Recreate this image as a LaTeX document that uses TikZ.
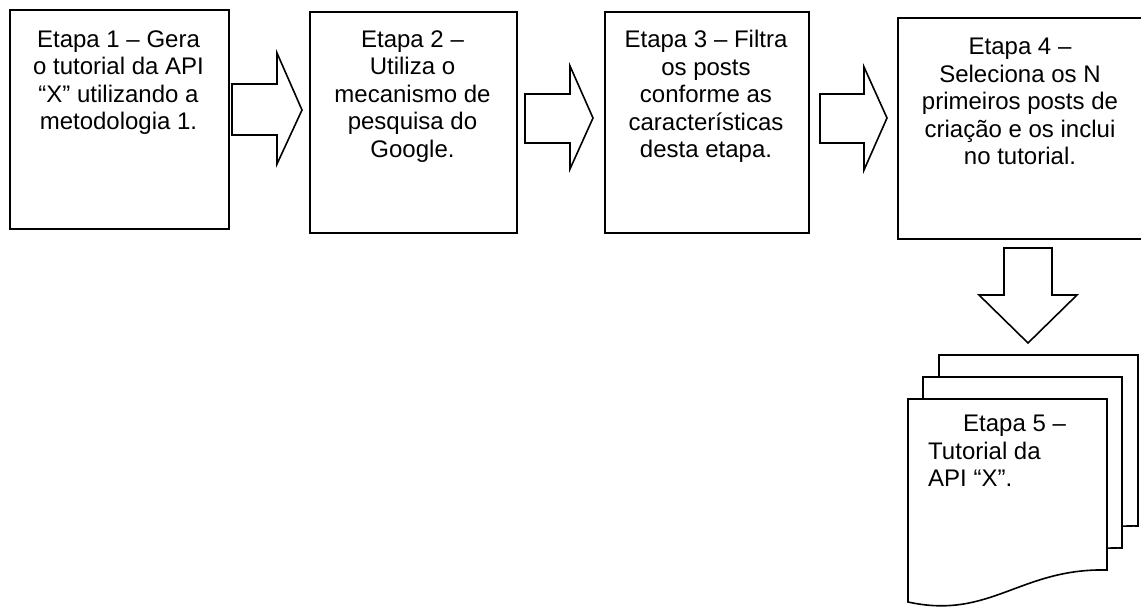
\documentclass[tikz,border=0pt]{standalone}
\usepackage{fontspec}
\setmainfont{Liberation Sans}
\begin{document}
\begin{tikzpicture}[x=1pt,y=-1pt,line join=miter,
  stagebox/.style={draw=black, fill=white, line width=1.6pt, inner sep=0pt, anchor=north west},
  stagetext/.style={font=\fontsize{24}{27.5}\selectfont, align=center, inner sep=0pt, anchor=north},
  blockarrow/.style={draw=black, fill=white, line width=1.6pt}]
\useasboundingbox (0,0) rectangle (1141,609);

% stage boxes
\node[stagebox, minimum width=219pt, minimum height=219pt] (b1) at (9,9) {};
\node[stagebox, minimum width=207pt, minimum height=221pt] (b2) at (309,11) {};
\node[stagebox, minimum width=204pt, minimum height=221pt] (b3) at (604,11) {};
\node[stagebox, minimum width=246pt, minimum height=221pt] (b4) at (897,17) {};

% texts
\node[stagetext] (t1) at (118.5,30.2) {Etapa 1 – Gera\\o tutorial da API\\“X” utilizando a\\metodologia 1.};
\node[stagetext] (t2) at (412.5,30.2) {Etapa 2 –\\Utiliza o\\mecanismo de\\pesquisa do\\Google.};
\node[stagetext] (t3) at (706,30) {Etapa 3 – Filtra\\os posts\\conforme as\\características\\desta etapa.};
\node[stagetext] (t4) at (1020,38.2) {Etapa 4 –\\Seleciona os N\\primeiros posts de\\criação e os inclui\\no tutorial.};

% block arrows
\draw[blockarrow] (232,84) -- (277,84) -- (277,53) -- (302,110) -- (277,164) -- (277,135) -- (232,135) -- cycle;
\draw[blockarrow] (525,94) -- (570,94) -- (570,66) -- (593,118) -- (570,169) -- (570,143) -- (525,143) -- cycle;
\draw[blockarrow] (820,94) -- (864,94) -- (864,67) -- (887,118) -- (864,170) -- (864,143) -- (820,143) -- cycle;
\draw[blockarrow] (1004,248) -- (1052,248) -- (1052,295) -- (1077,295) -- (1028,343) -- (979,295) -- (1004,295) -- cycle;

% multi-document
\foreach \dx/\dy in {31/-44, 15/-22, 0/0} {
  \draw[blockarrow, shift={(\dx,\dy)}] (908,399) -- (1107,399) -- (1107,570)
    .. controls (1020,568) and (990,620) .. (908,602) -- cycle;
}
\node[font=\fontsize{24}{27.5}\selectfont, align=left, inner sep=0pt, anchor=north west] (t5) at (928,415.2)
  {\hspace*{35pt}Etapa 5 –\\Tutorial da\\API “X”.};
\end{tikzpicture}
\end{document}
